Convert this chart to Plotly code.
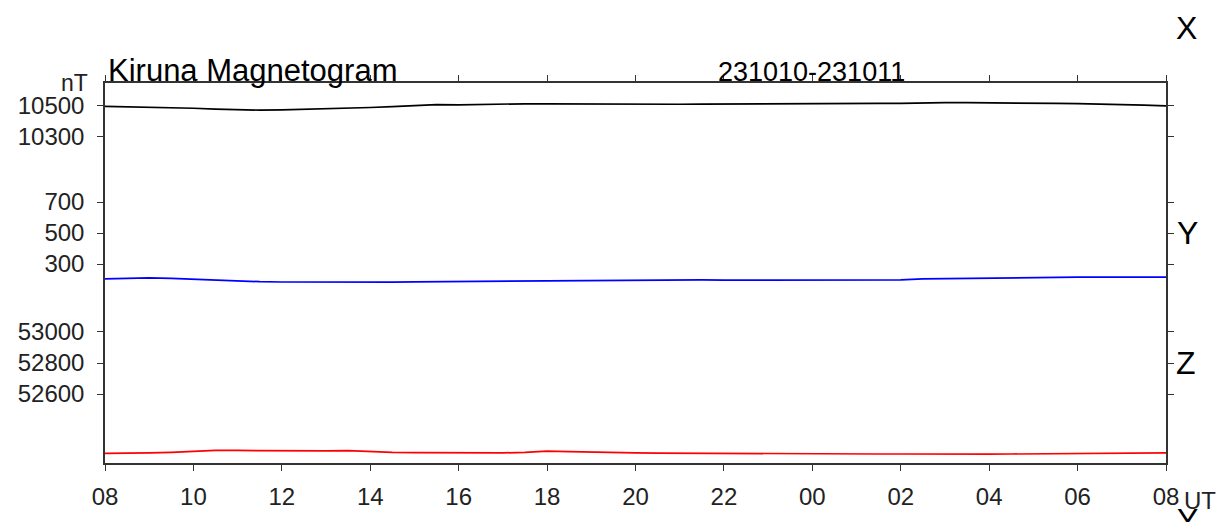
import datetime as dt
import plotly.graph_objects as go

# ---- data ----
hours = [0, 0.5, 1, 1.5, 2, 2.5, 3, 3.5, 4, 4.5, 5, 5.5, 6, 6.5, 7, 7.5, 8, 8.5,
         9, 9.5, 10, 10.5, 11, 11.5, 12, 12.5, 13, 13.5, 14, 14.5, 15, 15.5, 16,
         16.5, 17, 17.5, 18, 18.5, 19, 19.5, 20, 20.5, 21, 21.5, 22, 22.5, 23,
         23.5, 24]

x_comp = [10494, 10492, 10490, 10487, 10482, 10477, 10472, 10470, 10472, 10475,
          10479, 10483, 10487, 10492, 10500, 10505, 10504, 10507, 10510, 10511,
          10510, 10509, 10508, 10508, 10508, 10508, 10508, 10509, 10509, 10510,
          10510, 10510, 10511, 10511, 10512, 10513, 10514, 10517, 10518, 10518,
          10518, 10517, 10515, 10514, 10512, 10510, 10507, 10502, 10497]

y_comp = [204, 208, 210, 207, 201, 195, 190, 186, 184, 183, 182, 181, 182, 183,
          185, 186, 188, 189, 190, 191, 192, 194, 195, 196, 197, 197, 197, 197,
          196, 196, 197, 197, 197, 197, 197, 197, 198, 204, 206, 207, 209, 210,
          211, 213, 215, 215, 216, 218, 216]

z_comp = [52217, 52217, 52220, 52224, 52230, 52236, 52236, 52235, 52234, 52232,
          52233, 52235, 52228, 52224, 52222, 52222, 52220, 52218, 52220, 52224,
          52232, 52228, 52224, 52222, 52220, 52219, 52218, 52216, 52215, 52214,
          52214, 52214, 52213, 52213, 52213, 52213, 52213, 52212, 52212, 52212,
          52212, 52213, 52214, 52215, 52216, 52217, 52218, 52219, 52220]

x_ticks = [10300, 10500]
y_ticks = [300, 500, 700]
z_ticks = [52600, 52800, 53000]

start = dt.datetime(2023, 10, 10, 8, 0)
times = [start + dt.timedelta(hours=h) for h in hours]
end = start + dt.timedelta(hours=24)

# ---- figure ----
W, H = 1221, 522
L, R, T, B = 105, 1166, 83, 463


def px_x(p):
    return (p - L) / (R - L)


def px_y(p):
    return (B - p) / (B - T)


fig = go.Figure()
fig.add_trace(go.Scatter(x=times, y=x_comp, mode="lines", yaxis="y",
                         line=dict(color="black", width=1.7), showlegend=False))
fig.add_trace(go.Scatter(x=times, y=y_comp, mode="lines", yaxis="y2",
                         line=dict(color="#0000ff", width=1.7), showlegend=False))
fig.add_trace(go.Scatter(x=times, y=z_comp, mode="lines", yaxis="y3",
                         line=dict(color="#ff0000", width=1.7), showlegend=False))

tickfont = dict(family="Liberation Sans, Arial, sans-serif", size=24, color="#222")
common_y = dict(showgrid=False, zeroline=False, showline=True, linecolor="#333",
                linewidth=1.5, mirror="ticks", ticks="outside", ticklen=6,
                tickwidth=1, tickcolor="#333", tickfont=tickfont, tickformat="d",
                ticklabelstandoff=8, fixedrange=True, automargin=False)

fig.update_layout(
    width=W, height=H,
    margin=dict(l=L, r=W - R, t=T, b=H - B, pad=0, autoexpand=False),
    paper_bgcolor="white", plot_bgcolor="white",
    xaxis=dict(range=[start, end], dtick=7200000, tick0=start, tickformat="%H",
               showgrid=False, zeroline=False, showline=True, linecolor="#333",
               linewidth=1.5, mirror="ticks", ticks="outside", ticklen=6,
               tickwidth=1, tickcolor="#333", tickfont=tickfont,
               ticklabelstandoff=5, automargin=False, fixedrange=True),
    yaxis=dict(range=[8194, 10645], tickvals=x_ticks, **common_y),
    yaxis2=dict(range=[-984, 1468], tickvals=y_ticks, overlaying="y",
                side="left", **common_y),
    yaxis3=dict(range=[52155, 54606], tickvals=z_ticks, overlaying="y",
                side="left", **common_y),
)

font = "Liberation Sans, Arial, sans-serif"
ann = [
    dict(text="Kiruna Magnetogram", x=px_x(106), y=px_y(71), xanchor="left",
         yanchor="middle", font=dict(family=font, size=31, color="black")),
    dict(text="231010-231011", x=px_x(811), y=px_y(72), xanchor="center",
         yanchor="middle", font=dict(family=font, size=27, color="black")),
    dict(text="nT", x=px_x(90), y=px_y(83), xanchor="right", yanchor="middle",
         font=dict(family=font, size=23, color="#222")),
    dict(text="X", x=px_x(1186), y=px_y(28), xanchor="center", yanchor="middle",
         font=dict(family=font, size=32, color="black")),
    dict(text="Y", x=px_x(1187), y=px_y(233), xanchor="center", yanchor="middle",
         font=dict(family=font, size=32, color="black")),
    dict(text="Z", x=px_x(1186), y=px_y(363), xanchor="center", yanchor="middle",
         font=dict(family=font, size=32, color="black")),
    dict(text="UT", x=px_x(1182), y=px_y(500), xanchor="left", yanchor="middle",
         font=dict(family=font, size=24, color="#222")),
    dict(text="Y", x=px_x(1187), y=px_y(520), xanchor="center", yanchor="middle",
         font=dict(family=font, size=32, color="black")),
]
for a in ann:
    a.update(xref="paper", yref="paper", showarrow=False)
fig.update_layout(annotations=ann)

fig.write_html(
    "out.html",
    config={"displayModeBar": False},
    post_script="document.body.style.margin='0';document.body.style.overflow='hidden';",
)
